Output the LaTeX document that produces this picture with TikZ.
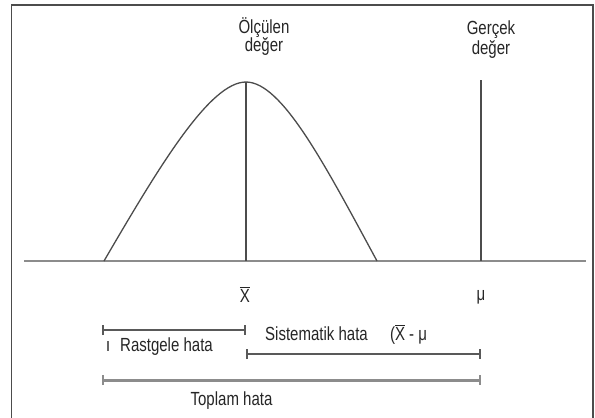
\documentclass[tikz,border=0pt]{standalone}
\usepackage{fontspec}
\setmainfont{Liberation Sans}[FakeStretch=0.79]
\usetikzlibrary{arrows.meta}
\tikzset{
  lbl/.style={anchor=base, inner sep=0pt, font=\fontsize{19}{22}\selectfont, text=black!85},
  ln/.style={draw=black!70, line width=1.3pt},
  axisline/.style={draw=black!45, line width=2.4pt},
  span/.style={draw=black!65, line width=1.6pt, {Bar[width=10pt,line width=1.6pt]}-{Bar[width=10pt,line width=1.6pt]}},
  spanthick/.style={draw=black!45, line width=3pt, {Bar[width=10pt,line width=2pt]}-{Bar[width=10pt,line width=2pt]}},
}
\newcommand{\xbarsym}{$\overline{\mbox{X}}$}
\begin{document}
\begin{tikzpicture}[x=1pt,y=-1pt]
\useasboundingbox (0,0) rectangle (595,418);
\fill[white] (0,0) rectangle (595,418);
% frame (right and bottom partly outside)
\draw[draw=black!70, line width=1.4pt] (11.5,430) -- (11.5,5) -- (593,5) -- (593,430);

% axis
\coordinate (axL) at (24,261);
\coordinate (axR) at (586,261);
\draw[axisline] (axL) -- (axR);

% curve
\coordinate (footL) at (104,261);
\coordinate (peak) at (246,82);
\coordinate (footR) at (377,261);
\coordinate (xbase) at (246,261);
\draw[ln] (footL) .. controls (160,165) and (210,82) .. (peak)
               .. controls (282,82) and (325,165) .. (footR);
\draw[ln] (peak) -- (xbase);

% true value line
\coordinate (mutop) at (481,80);
\coordinate (mubase) at (481,261);
\draw[ln] (mutop) -- (mubase);

% top labels
\node[lbl] (olc) at (264,33) {Ölçülen};
\node[lbl] (olc2) at (264,51.5) {değer};
\node[lbl] (ger) at (491,34) {Gerçek};
\node[lbl] (ger2) at (491,54) {değer};

% axis labels
\node[lbl] (xb) at (245,302) {\xbarsym};
\node[lbl] (mu) at (481,300) {μ};

% error spans
\coordinate (rL) at (102,330);
\coordinate (rR) at (246,330);
\draw[span] (rL) -- (rR);
\coordinate (sL) at (246,354);
\coordinate (sR) at (481,354);
\draw[span] (sL) -- (sR);
\coordinate (tL) at (102,380);
\coordinate (tR) at (481,380);
\draw[spanthick] (tL) -- (tR);
\coordinate (m1) at (108,341);
\coordinate (m2) at (108,351);
\draw[draw=black!60, line width=1.2pt] (m1) -- (m2);

\node[lbl] (rast) at (166.5,351) {Rastgele hata};
\node[lbl] (sist) at (316.5,340) {Sistematik hata};
\node[lbl] (diff) at (408.5,340) {(\xbarsym{} - μ};
\node[lbl] (top) at (231.5,405) {Toplam hata};
\end{tikzpicture}
\end{document}
